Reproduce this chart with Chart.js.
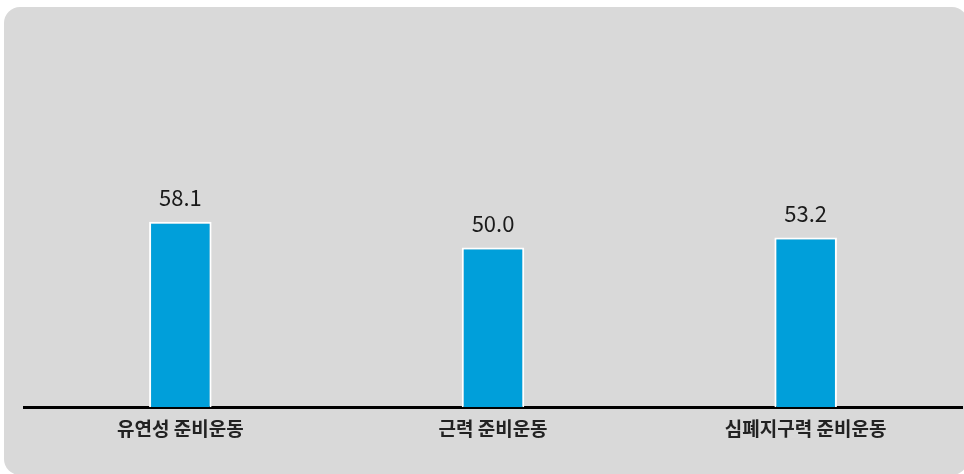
<!DOCTYPE html>
<html>
<head>
<meta charset="utf-8">
<script src="https://cdn.jsdelivr.net/npm/chart.js@4"></script>
<style>
  html, body { margin: 0; padding: 0; width: 964px; height: 474px; overflow: hidden; background: #ffffff; }
  #card { position: absolute; left: 4px; top: 7px; width: 964px; height: 468px; background: #d9d9d9; border-radius: 16px; }
  #wrap { position: absolute; left: 0; top: 0; width: 964px; height: 474px; }
</style>
</head>
<body>
<div id="card"></div>
<div id="wrap"><canvas id="c" width="964" height="474"></canvas></div>
<script>
const categories = ['유연성 준비운동', '근력 준비운동', '심폐지구력 준비운동'];
const values = [58.1, 50.0, 53.2];

const valueLabels = {
  id: 'valueLabels',
  afterDatasetsDraw(chart) {
    const ctx = chart.ctx;
    const meta = chart.getDatasetMeta(0);
    ctx.save();
    ctx.font = '22px "Noto Sans CJK KR", "Noto Sans", sans-serif';
    ctx.fillStyle = '#1a1a1a';
    ctx.textAlign = 'center';
    ctx.textBaseline = 'middle';
    meta.data.forEach((bar, i) => {
      ctx.fillText(values[i].toFixed(1), bar.x, bar.y - 24);
    });
    ctx.restore();
  }
};

new Chart(document.getElementById('c'), {
  type: 'bar',
  data: {
    labels: categories,
    datasets: [{
      data: values,
      backgroundColor: '#009fda',
      borderColor: '#ffffff',
      borderWidth: 2,
      categoryPercentage: 1,
      barPercentage: 0.2
    }]
  },
  options: {
    responsive: false,
    animation: false,
    layout: { padding: { left: 24, right: 2, top: 88, bottom: 32 } },
    plugins: { legend: { display: false }, tooltip: { enabled: false } },
    scales: {
      x: {
        grid: { display: false },
        border: { display: true, color: '#000000', width: 3 },
        ticks: {
          color: '#222222',
          padding: 2,
          font: { family: '"Noto Sans CJK KR", "Noto Sans", sans-serif', size: 19, weight: 'bold' }
        }
      },
      y: { display: false, min: 0, max: 100 }
    }
  },
  plugins: [valueLabels]
});
</script>
</body>
</html>
